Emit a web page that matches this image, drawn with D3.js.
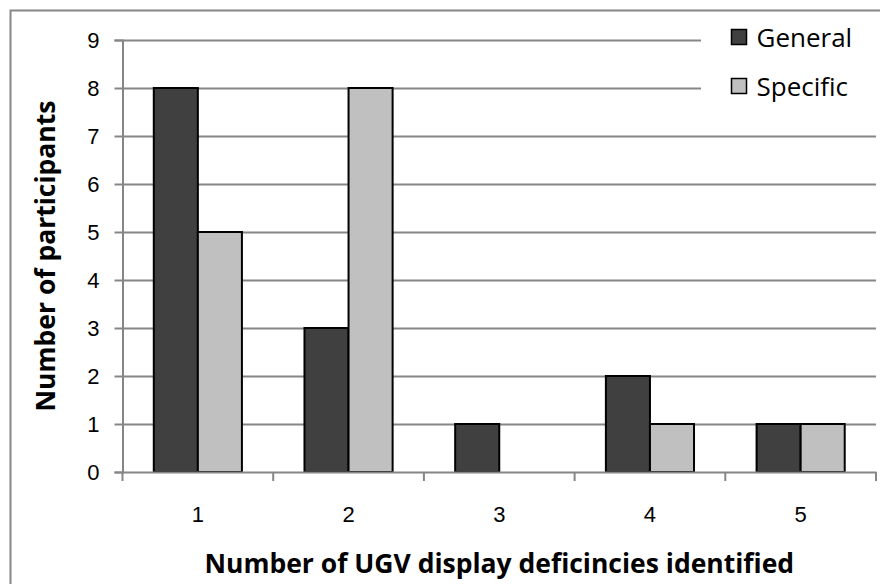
<!DOCTYPE html>
<html>
<head>
<meta charset="utf-8">
<script src="https://cdn.jsdelivr.net/npm/d3@7"></script>
<style>
  body { margin: 0; background: #fff; }
  svg { display: block; font-family: "Open Sans", Lato, sans-serif; }
</style>
</head>
<body>
<div id="plot"></div>
<script>
// data
const categories = ["1", "2", "3", "4", "5"];
const seriesNames = ["General", "Specific"];
const general = [8, 3, 1, 2, 1];
const specific = [5, 8, 0, 1, 1];
const yTicks = [0, 1, 2, 3, 4, 5, 6, 7, 8, 9];

const colors = { General: "#404040", Specific: "#c0c0c0" };

const width = 880, height = 584;
const margin = { top: 40, right: 4, bottom: 112, left: 122.5 };

const rows = categories.map((c, i) => ({ cat: c, General: general[i], Specific: specific[i] }));

const svg = d3.select("#plot").append("svg")
  .attr("width", width)
  .attr("height", height);

// outer frame (runs off the right/bottom edge like the original)
svg.append("rect")
  .attr("x", 10.5).attr("y", 10.5)
  .attr("width", width + 20).attr("height", height + 20)
  .attr("fill", "none")
  .attr("stroke", "#868686")
  .attr("stroke-width", 2);

const x = d3.scaleBand()
  .domain(categories)
  .range([margin.left, width - margin.right])
  .paddingInner(0)
  .paddingOuter(0);

const xInner = d3.scaleBand()
  .domain(seriesNames)
  .range([0, x.bandwidth()])
  .paddingInner(0)
  .paddingOuter(0.71);

const y = d3.scaleLinear()
  .domain([0, 9])
  .range([height - margin.bottom, margin.top]);

// gridlines + y ticks
const yAxis = svg.append("g")
  .attr("transform", `translate(${margin.left},0)`)
  .call(d3.axisLeft(y).tickValues(yTicks).tickSize(8).tickPadding(15).tickFormat(d3.format("d")));
yAxis.select(".domain").attr("stroke", "#868686").attr("stroke-width", 2);
yAxis.selectAll(".tick line").attr("stroke", "#868686").attr("stroke-width", 2);
yAxis.selectAll(".tick text").attr("font-size", 22).attr("fill", "#000");
yAxis.selectAll(".tick").filter(d => d > 0).append("line")
  .attr("x1", 0).attr("x2", width - margin.right - margin.left)
  .attr("stroke", "#868686").attr("stroke-width", 2);

// bars
const groups = svg.append("g").selectAll("g")
  .data(rows)
  .join("g")
  .attr("transform", d => `translate(${x(d.cat)},0)`);

groups.selectAll("rect")
  .data(d => seriesNames.map(k => ({ key: k, value: d[k] })).filter(d => d.value > 0))
  .join("rect")
  .attr("x", d => xInner(d.key))
  .attr("y", d => y(d.value))
  .attr("width", xInner.bandwidth())
  .attr("height", d => y(0) - y(d.value))
  .attr("fill", d => colors[d.key])
  .attr("stroke", "#000")
  .attr("stroke-width", 2);

// x axis
const xAxis = svg.append("g")
  .attr("transform", `translate(0,${y(0)})`)
  .call(d3.axisBottom(x).tickSize(0).tickPadding(34));
xAxis.select(".domain").attr("stroke", "#868686").attr("stroke-width", 2);
xAxis.selectAll(".tick text").attr("font-size", 22).attr("fill", "#000");

// category separator ticks
const edges = categories.map(c => x(c)).concat([x.range()[1]]);
xAxis.selectAll(".sep")
  .data(edges)
  .join("line")
  .attr("class", "sep")
  .attr("x1", d => d).attr("x2", d => d)
  .attr("y1", 0).attr("y2", 9)
  .attr("stroke", "#868686").attr("stroke-width", 2);

// axis titles
svg.append("text")
  .attr("x", (x.range()[0] + x.range()[1]) / 2)
  .attr("y", 573)
  .attr("text-anchor", "middle")
  .attr("font-size", 26.5)
  .attr("font-weight", "bold")
  .text("Number of UGV display deficincies identified");

svg.append("text")
  .attr("transform", `translate(55,${(y(0) + y(9)) / 2}) rotate(-90)`)
  .attr("text-anchor", "middle")
  .attr("font-size", 26.5)
  .attr("font-weight", "bold")
  .text("Number of participants");

// legend (white box hides the gridlines behind it)
svg.append("rect")
  .attr("x", 701).attr("y", 14)
  .attr("width", 180).attr("height", 98)
  .attr("fill", "#fff");

const legend = svg.append("g").selectAll("g")
  .data(seriesNames)
  .join("g")
  .attr("transform", (d, i) => `translate(731.5,${29.5 + i * 49})`);
legend.append("rect")
  .attr("width", 15).attr("height", 15)
  .attr("fill", d => colors[d])
  .attr("stroke", "#000").attr("stroke-width", 1.5);
legend.append("text")
  .attr("x", 25).attr("y", 8)
  .attr("dy", "0.36em")
  .attr("font-size", 26)
  .text(d => d);
</script>
</body>
</html>
